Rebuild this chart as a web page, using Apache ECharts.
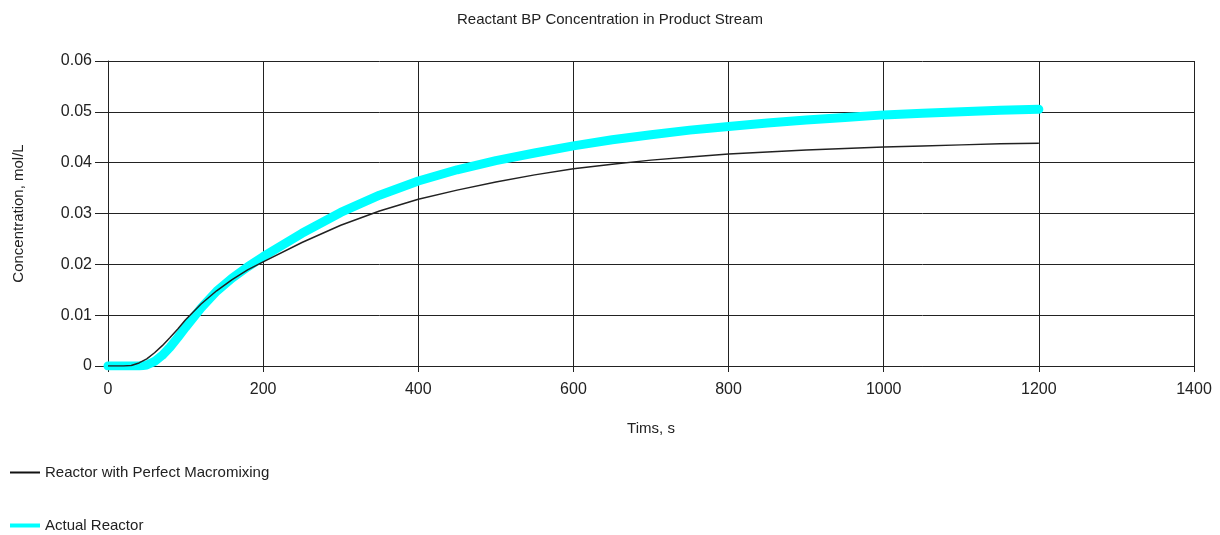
<!DOCTYPE html>
<html>
<head>
<meta charset="utf-8">
<script src="https://cdn.jsdelivr.net/npm/echarts@6/dist/echarts.min.js"></script>
<style>html,body{margin:0;padding:0;background:#fff;}#c{width:1220px;height:535px;}</style>
</head>
<body>
<div id="c"></div>
<script>
const times = [0,10,20,30,40,50,60,70,80,90,100,120,140,160,180,200,250,300,350,400,450,500,550,600,650,700,750,800,850,900,950,1000,1050,1100,1150,1200];
const perfectMacromixing = [0,0,0,0.0001,0.0006,0.0014,0.0026,0.0040,0.0056,0.0073,0.0091,0.0122,0.0148,0.0170,0.0189,0.0205,0.0243,0.0277,0.0305,0.0328,0.0346,0.0362,0.0376,0.0388,0.0397,0.0405,0.0411,0.0417,0.0421,0.0425,0.0428,0.0431,0.0433,0.0435,0.0437,0.0438];
const actualReactor = [0,0,0,0,0,0.0002,0.0009,0.0021,0.0037,0.0056,0.0076,0.0114,0.0147,0.0173,0.0195,0.0215,0.0261,0.0302,0.0336,0.0364,0.0386,0.0404,0.0419,0.0433,0.0445,0.0455,0.0464,0.0471,0.0478,0.0484,0.0489,0.0494,0.0497,0.0500,0.0503,0.0505];
const seriesNames = ['Reactor with Perfect Macromixing','Actual Reactor'];
const titleText = 'Reactant BP Concentration in Product Stream';
const xName = 'Tims, s';
const yName = 'Concentration, mol/L';

const font = 'Liberation Sans, Arial, sans-serif';
const chart = echarts.init(document.getElementById('c'), null, {renderer:'canvas'});
chart.setOption({
  animation:false,
  backgroundColor:'#fff',
  title:{text:titleText, left:'center', top:7, textStyle:{fontFamily:font, fontSize:15, fontWeight:'normal', color:'#222'}},
  grid:{left:108, right:26, top:61, bottom:169, containLabel:false},
  xAxis:{type:'value', min:0, max:1400, interval:200,
    name:xName, nameLocation:'middle', nameGap:55,
    nameTextStyle:{fontFamily:font, fontSize:15, color:'#222'},
    axisLine:{show:true, lineStyle:{color:'#222', width:1}},
    axisTick:{show:true, length:6, lineStyle:{color:'#222'}},
    axisLabel:{fontFamily:font, fontSize:16, color:'#222', margin:16, formatter:v=>String(v)},
    splitLine:{show:true, lineStyle:{color:'#222', width:1}}},
  yAxis:{type:'value', min:0, max:0.06, interval:0.01,
    name:yName, nameLocation:'middle', nameGap:82, nameRotate:90,
    nameTextStyle:{fontFamily:font, fontSize:15, color:'#222'},
    axisLine:{show:true, lineStyle:{color:'#222', width:1}},
    axisTick:{show:true, length:13, lineStyle:{color:'#222'}},
    axisLabel:{fontFamily:font, fontSize:16, color:'#222', margin:16,
      formatter:v=>v===0?'0':v.toFixed(2)},
    splitLine:{show:true, lineStyle:{color:'#222', width:1}}},
  legend:{orient:'vertical', left:10, top:465, padding:0, itemGap:38, itemWidth:30, itemHeight:14,
    textStyle:{fontFamily:font, fontSize:15, color:'#222'},
    data:[
      {name:seriesNames[0], icon:'path://M0,6 L30,6 L30,8 L0,8 Z', itemStyle:{color:'#111'}},
      {name:seriesNames[1], icon:'path://M0,5 L30,5 L30,9 L0,9 Z', itemStyle:{color:'#00ffff'}}
    ]},
  series:[
    {name:seriesNames[1], type:'line', smooth:false, showSymbol:false, symbol:'none',
      data:times.map((t,i)=>[t, actualReactor[i]]),
      lineStyle:{color:'#00ffff', width:9, cap:'round', join:'round'}, itemStyle:{color:'#00ffff'}, z:2},
    {name:seriesNames[0], type:'line', smooth:false, showSymbol:false, symbol:'none',
      data:times.map((t,i)=>[t, perfectMacromixing[i]]),
      lineStyle:{color:'#222', width:1.5, join:'round'}, itemStyle:{color:'#111'}, z:3}
  ]
});
</script>
</body>
</html>
